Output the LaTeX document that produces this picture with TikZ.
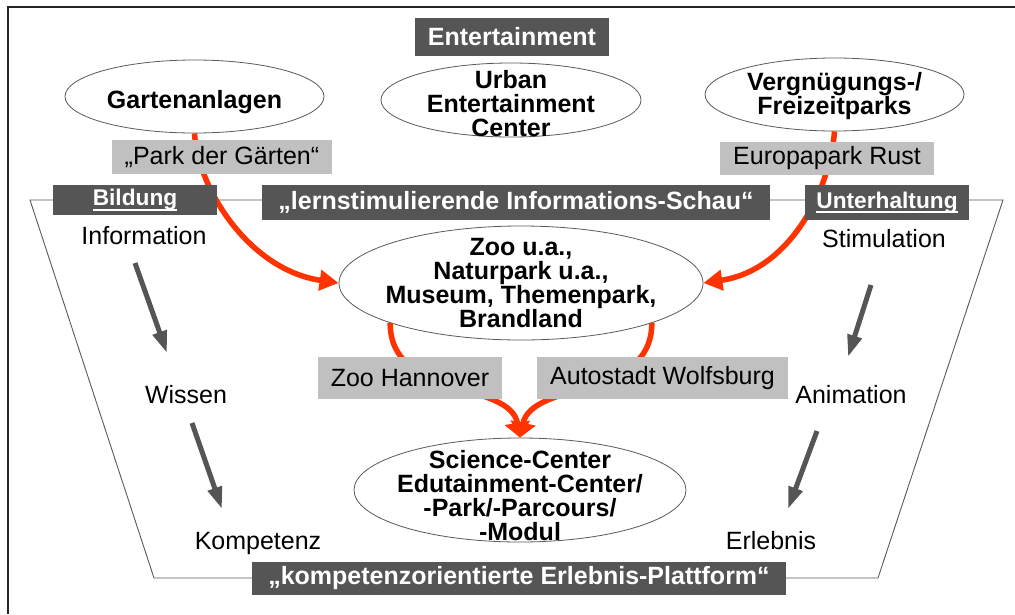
\documentclass[tikz,border=0pt]{standalone}
\usepackage{fontspec}
\setmainfont{Liberation Sans}
\usetikzlibrary{arrows.meta,shapes.geometric}
\definecolor{boxdark}{HTML}{555555}
\definecolor{boxlight}{HTML}{C0C0C0}
\definecolor{redarrow}{HTML}{FF3300}
\definecolor{linegray}{HTML}{5A5A5A}
\newcommand\myul[1]{\setbox0=\hbox{#1}\rlap{\rule[-5pt]{\wd0}{2pt}}\box0}
\begin{document}
\begin{tikzpicture}[x=1pt,y=-1pt,
  darkbox/.style={fill=boxdark, text=white, font=\fontsize{25}{30}\selectfont\bfseries, inner sep=0pt},
  smalldark/.style={darkbox, font=\fontsize{22.7}{27}\selectfont\bfseries},
  lightbox/.style={fill=boxlight, text=black, font=\fontsize{25}{30}\selectfont, inner sep=0pt},
  oval/.style={draw=linegray, line width=0.8pt, fill=white, ellipse, inner sep=0pt},
  ovaltext/.style={align=center, font=\fontsize{25}{24}\selectfont\bfseries, inner sep=0pt},
  plaintext/.style={font=\fontsize{25}{30}\selectfont, inner sep=0pt, anchor=base},
  redarr/.style={draw=redarrow, line width=5.5pt, -{Triangle[length=19pt,width=20pt]}},
  redarrb/.style={draw=redarrow, line width=5.5pt, -{Triangle[length=15pt,width=25pt]}},
  grayarr/.style={draw=boxdark, line width=5pt, -{Triangle[length=22pt,width=14pt]}},
]
\useasboundingbox (0,0) rectangle (1015,614);
\fill[white] (0,0) rectangle (1015,614);
% frame
\draw[line width=2pt, black!85] (8,614) -- (8,7) -- (1015,7);
% trapezoid
\draw[linegray, line width=0.9pt] (30,200) -- (1003,200) -- (878,578) -- (154,578) -- cycle;

% ellipses
\node[oval, minimum width=259pt, minimum height=73pt] (garten) at (194.5,96.5) {};
\node[oval, minimum width=260pt, minimum height=74pt] (urban) at (511,100) {};
\node[oval, minimum width=259pt, minimum height=73pt] (vergn) at (834.5,94.5) {};
\node[oval, minimum width=364pt, minimum height=114pt] (zoo) at (521,283) {};
\node[oval, minimum width=332pt, minimum height=104pt] (sci) at (520,490) {};

\node[ovaltext, anchor=base] (gartent) at (194.5,108) {Gartenanlagen};
\node[ovaltext] (urbant) at (511,104) {Urban\\Entertainment\\Center};
\node[ovaltext] (vergnt) at (834.5,96.5) {Vergnügungs-/\\Freizeitparks};
\node[ovaltext] (zoot) at (521,283) {Zoo u.a.,\\Naturpark u.a.,\\Museum, Themenpark,\\Brandland};
\node[ovaltext] (scit) at (520,496) {Science-Center\\Edutainment-Center/\\-Park/-Parcours/\\-Modul};

% red arrows
\draw[redarr] (garten.south) .. controls (198,190) and (250,270) .. (zoo.west);
\draw[redarr] (vergn.south) .. controls (830,190) and (790,270) .. (zoo.east);
\draw[redarrb] (zoo.197) .. controls (390,400) and (510,380) .. (sci.north);
\draw[redarrb] (zoo.343) .. controls (652,400) and (532,380) .. (sci.north);

% boxes
\node[darkbox, minimum width=194pt, minimum height=38pt] (entbox) at (512,37) {Entertainment};
\node[lightbox, minimum width=220pt, minimum height=34pt] (parkbox) at (222,157) {„Park der Gärten“};
\node[lightbox, minimum width=214pt, minimum height=33pt] (eurobox) at (827,158) {Europapark Rust};
\node[smalldark, minimum width=164pt, minimum height=30pt] (bildbox) at (135,200) {\myul{Bildung}};
\node[darkbox, minimum width=508pt, minimum height=35pt] (lernbox) at (516,202.5) {„lernstimulierende Informations-Schau“};
\node[smalldark, minimum width=164pt, minimum height=35pt] (unterbox) at (887,202.5) {\myul{Unterhaltung}};
\node[lightbox, minimum width=184pt, minimum height=42pt] (zoohbox) at (410,378) {Zoo Hannover};
\node[lightbox, minimum width=251pt, minimum height=42pt] (autobox) at (662.5,378) {Autostadt Wolfsburg};
\node[darkbox, minimum width=534pt, minimum height=33pt] (kompbox) at (519,578.5) {„kompetenzorientierte Erlebnis-Plattform“};

% plain texts
\node[plaintext] (info) at (144,244) {Information};
\node[plaintext] (stim) at (884,247) {Stimulation};
\node[plaintext] (wissen) at (186,403) {Wissen};
\node[plaintext] (anim) at (851,403) {Animation};
\node[plaintext] (kompet) at (258,549) {Kompetenz};
\node[plaintext] (erleb) at (771,549) {Erlebnis};

% gray arrows
\coordinate (a1s) at (135,263); \coordinate (a1e) at (167,353);
\coordinate (a2s) at (192,423); \coordinate (a2e) at (222,509);
\coordinate (a3s) at (871,285); \coordinate (a3e) at (848,357);
\coordinate (a4s) at (817,431); \coordinate (a4e) at (788,509);
\draw[grayarr] (a1s) -- (a1e);
\draw[grayarr] (a2s) -- (a2e);
\draw[grayarr] (a3s) -- (a3e);
\draw[grayarr] (a4s) -- (a4e);
\end{tikzpicture}
\end{document}
